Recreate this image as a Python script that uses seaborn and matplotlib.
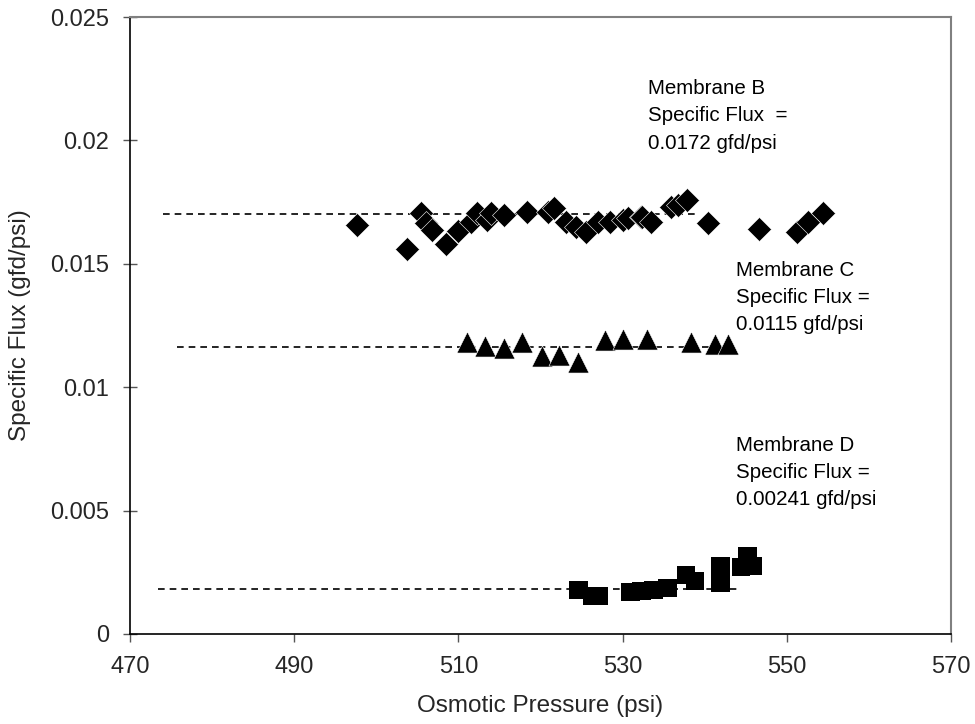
import numpy as np
import pandas as pd
import matplotlib
matplotlib.use("Agg")
import matplotlib.pyplot as plt
import seaborn as sns

# ---- data ----
b_pressure = [497.6, 503.8, 505.4, 506.1, 506.8, 508.5, 509.9, 511.5, 512.3, 513.5,
              514.0, 515.5, 518.4, 520.9, 521.6, 523.1, 524.3, 525.5, 527.0, 528.5,
              530.1, 530.6, 532.2, 532.4, 533.4, 535.9, 536.8, 537.9, 540.4, 546.6,
              551.3, 552.6, 554.4]
b_flux = [0.01657, 0.01560, 0.01706, 0.01666, 0.01637, 0.01580, 0.01633, 0.01669, 0.01706, 0.01678,
          0.01706, 0.01698, 0.01710, 0.01710, 0.01726, 0.01669, 0.01649, 0.01629, 0.01669, 0.01669,
          0.01678, 0.01686, 0.01690, 0.01690, 0.01669, 0.01730, 0.01738, 0.01758, 0.01665, 0.01641,
          0.01629, 0.01669, 0.01706]

c_pressure = [511.1, 513.2, 515.6, 517.8, 520.2, 522.3, 524.6, 527.8, 530.0, 533.0,
              538.3, 541.3, 542.8]
c_flux = [0.01183, 0.01167, 0.01159, 0.01183, 0.01126, 0.01130, 0.01102, 0.01191, 0.01195, 0.01195,
          0.01183, 0.01175, 0.01175]

d_pressure = [524.6, 526.3, 527.1, 531.0, 532.3, 533.8, 535.5, 537.7, 538.8, 541.9,
              541.9, 544.4, 545.2, 545.9]
d_flux = [0.00178, 0.00154, 0.00154, 0.00170, 0.00174, 0.00178, 0.00186, 0.00239, 0.00215, 0.00207,
          0.00276, 0.00271, 0.00316, 0.00276]

# constant (average) flux lines: start/end pressure and level
b_line_x = [474.0, 538.8]
b_line_y = [0.01702, 0.01702]
c_line_x = [475.7, 542.8]
c_line_y = [0.01163, 0.01163]
d_line_x = [473.4, 544.0]
d_line_y = [0.00182, 0.00182]

x_ticks = [470, 490, 510, 530, 550, 570]
y_ticks = [0, 0.005, 0.01, 0.015, 0.02, 0.025]
y_tick_labels = ["0", "0.005", "0.01", "0.015", "0.02", "0.025"]

labels = ["Membrane B\nSpecific Flux  =\n0.0172 gfd/psi",
          "Membrane C\nSpecific Flux =\n0.0115 gfd/psi",
          "Membrane D\nSpecific Flux =\n0.00241 gfd/psi"]
label_x = [533.1, 543.8, 543.8]
label_y = [0.02099, 0.01364, 0.00655]

# ---- plotting ----
sns.set_theme(style="white")
plt.rcParams['font.family'] = ['Liberation Sans', 'DejaVu Sans']

fig = plt.figure(figsize=(9.75, 7.24), dpi=100)
ax = fig.add_axes([130/975, 1 - 634/724, (951 - 130)/975, (634 - 17)/724])

dfb = pd.DataFrame({"p": b_pressure, "f": b_flux})
dfc = pd.DataFrame({"p": c_pressure, "f": c_flux})
dfd = pd.DataFrame({"p": d_pressure, "f": d_flux})

for xs, ys in [(b_line_x, b_line_y), (c_line_x, c_line_y), (d_line_x, d_line_y)]:
    sns.lineplot(x=xs, y=ys, ax=ax, color="black", linestyle=(0, (4, 3)), linewidth=1.2,
                 zorder=1, estimator=None, sort=False)

sns.scatterplot(data=dfb, x="p", y="f", ax=ax, marker="D", s=150, color="black",
                edgecolor="white", linewidth=0.4, zorder=3)
sns.scatterplot(data=dfc, x="p", y="f", ax=ax, marker="^", s=230, color="black",
                edgecolor="white", linewidth=0.4, zorder=3)
sns.scatterplot(data=dfd, x="p", y="f", ax=ax, marker="s", s=180, color="black",
                edgecolor="none", linewidth=0, zorder=3)

for t, tx, ty in zip(labels, label_x, label_y):
    ax.text(tx, ty, t, fontsize=14.8, ha="left", va="center", linespacing=1.55,
            color="black")

ax.set_xlim(470, 570)
ax.set_ylim(0, 0.025)
ax.set_xticks(x_ticks)
ax.set_xticklabels([str(v) for v in x_ticks])
ax.set_yticks(y_ticks)
ax.set_yticklabels(y_tick_labels)
ax.tick_params(axis="x", direction="out", length=6, width=1, color="#555555",
               labelsize=17, pad=10, bottom=True)
ax.tick_params(axis="y", direction="inout", length=10, width=1, color="#555555",
               labelsize=17, pad=10, left=True)

ax.set_xlabel("Osmotic Pressure (psi)", fontsize=17.5, labelpad=12)
ax.set_ylabel("Specific Flux (gfd/psi)", fontsize=17.5, labelpad=14)

for side in ["left", "bottom"]:
    ax.spines[side].set_color("black")
    ax.spines[side].set_linewidth(1.2)
for side in ["top", "right"]:
    ax.spines[side].set_color("#808080")
    ax.spines[side].set_linewidth(1.5)
ax.grid(False)

fig.savefig("out.png", dpi=100)
